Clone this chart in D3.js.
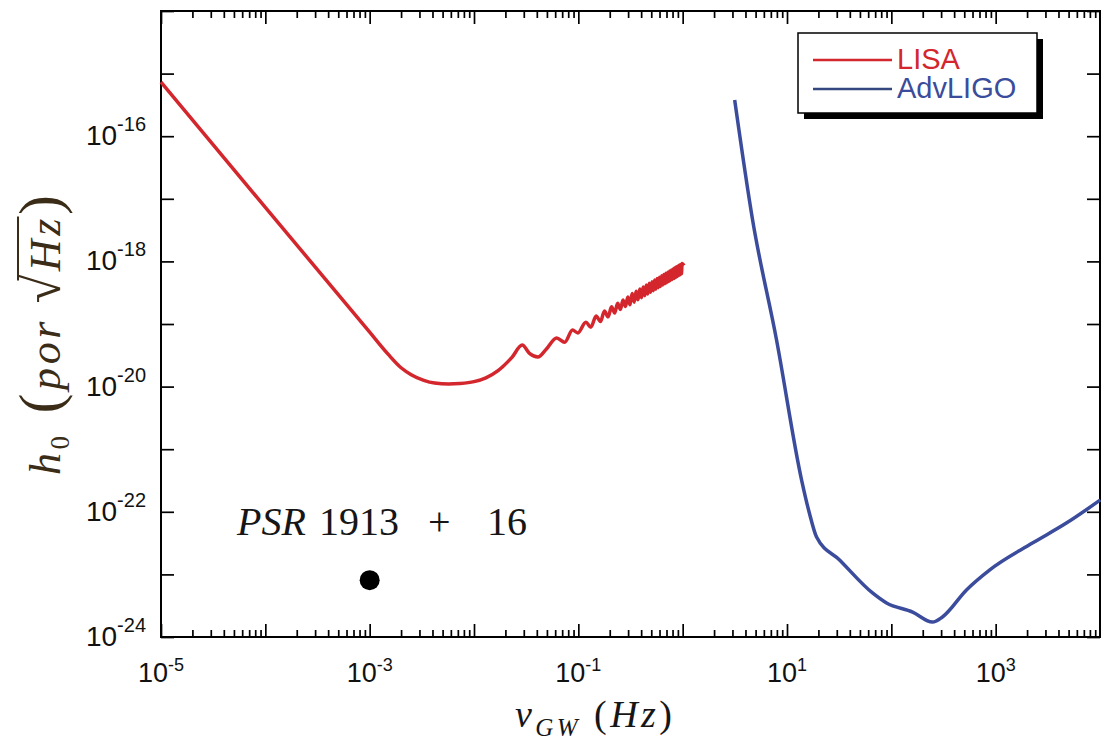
<!DOCTYPE html>
<html>
<head>
<meta charset="utf-8">
<script src="https://cdn.jsdelivr.net/npm/d3@7"></script>
<style>
  body { margin: 0; background: #fff; }
  svg { display: block; }
</style>
</head>
<body>
<div id="chart"></div>
<script>
// Sensitivity curves (frequency in Hz, strain per sqrt(Hz))
var lisaFreq = [1e-5, 1e-4, 1e-3, 1.5e-3, 2e-3, 2.5e-3, 3.3e-3, 4.2e-3, 5.7e-3, 7.3e-3,
  1e-2, 1.3e-2, 1.7e-2, 2.3e-2, 2.9e-2, 3.4e-2, 4.1e-2, 4.9e-2, 6.2e-2, 7.4e-2, 8.8e-2, 9.9e-2,
  0.118, 0.132, 0.148, 0.163, 0.178, 0.193, 0.208, 0.223, 0.238, 0.253, 0.268, 0.283,
  0.298, 0.313, 0.328, 0.343, 0.358, 0.373, 0.388, 0.403, 0.418, 0.433, 0.448, 0.463,
  0.478, 0.493, 0.508, 0.523, 0.538, 0.553, 0.568, 0.583, 0.598, 0.613, 0.628, 0.643,
  0.658, 0.673, 0.688, 0.703, 0.718, 0.733, 0.748, 0.763, 0.778, 0.793, 0.808, 0.823,
  0.838, 0.853, 0.868, 0.883, 0.898, 0.913, 0.928, 0.943, 0.958, 0.973, 0.988, 1.03];
var lisaStrain = [7.3e-16, 7.3e-18, 7.4e-20, 3.3e-20, 2.0e-20, 1.55e-20, 1.26e-20, 1.14e-20, 1.1e-20, 1.12e-20,
  1.2e-20, 1.38e-20, 1.8e-20, 2.9e-20, 4.6e-20, 3.4e-20, 2.97e-20, 3.9e-20, 5.97e-20, 5.1e-20, 8.0e-20, 7.2e-20,
  1.07e-19, 8.9e-20, 1.34e-19, 1.095e-19, 1.61e-19, 1.30e-19, 1.88e-19, 1.50e-19, 2.15e-19, 1.70e-19, 2.42e-19, 1.90e-19,
  2.69e-19, 2.03e-19, 3.07e-19, 2.23e-19, 3.35e-19, 2.43e-19, 3.64e-19, 2.62e-19, 3.91e-19, 2.82e-19, 4.19e-19, 3.01e-19,
  4.48e-19, 3.21e-19, 4.75e-19, 3.40e-19, 5.04e-19, 3.59e-19, 5.32e-19, 3.79e-19, 5.59e-19, 3.98e-19, 5.88e-19, 4.18e-19,
  6.16e-19, 4.38e-19, 6.44e-19, 4.57e-19, 6.72e-19, 4.77e-19, 7.0e-19, 4.96e-19, 7.28e-19, 5.16e-19, 7.56e-19, 5.35e-19,
  7.85e-19, 5.54e-19, 8.12e-19, 5.74e-19, 8.4e-19, 5.93e-19, 8.69e-19, 6.13e-19, 8.96e-19, 6.33e-19, 9.25e-19, 8.6e-19];

var ligoFreq = [3.15, 4.68, 7.94, 13.8, 16.4, 19.2, 31.9, 66, 90, 160, 248, 309, 525, 873, 2250, 4760, 10090];
var ligoStrain = [3.8e-16, 4.58e-18, 5.55e-20, 3.22e-22, 9.5e-23, 3.95e-23, 1.7e-23, 5.05e-24, 3.49e-24,
  2.5e-24, 1.73e-24, 2.09e-24, 5.64e-24, 1.17e-23, 3.16e-23, 6.6e-23, 1.55e-22];

var psrFreq = [1e-3];
var psrStrain = [8.1e-24];

var seriesNames = ["LISA", "AdvLIGO"];
var seriesColors = ["#d3262d", "#3a4c9b"];
var legendLineColors = ["#d3262d", "#34477e"];

var xLabelExp = [-5, -3, -1, 1, 3];
var yLabelExp = [-16, -18, -20, -22, -24];

var w = 1101;
var h = 740;
var plotLeft = 161, plotRight = 1100, plotTop = 11, plotBottom = 637;

var x = d3.scaleLog().domain([1e-5, 1e4]).range([plotLeft, plotRight]);
var y = d3.scaleLog().domain([1e-24, 1e-14]).range([plotBottom, plotTop]);

var svg = d3.select("#chart")
  .append("svg")
  .attr("width", w)
  .attr("height", h);

function isPow10(v) {
  var l = Math.log10(v);
  return Math.abs(l - Math.round(l)) < 1e-6;
}

var xMajor = x.ticks().filter(isPow10);
var xMinor = x.ticks().filter(function (v) { return !isPow10(v); });
var yMajor = y.ticks().filter(isPow10);
var yMinor = y.ticks().filter(function (v) { return !isPow10(v); });

// ticks on all four sides, pointing inward
function addAxis(axisFn, scale, values, size, transform) {
  svg.append("g")
    .attr("transform", transform)
    .call(axisFn(scale).tickValues(values).tickSize(-size).tickFormat(""))
    .call(function (g) { g.select(".domain").remove(); })
    .selectAll("line")
    .attr("stroke", "#000")
    .attr("stroke-width", 1.7);
}
addAxis(d3.axisBottom, x, xMajor, 13, "translate(0," + plotBottom + ")");
addAxis(d3.axisBottom, x, xMinor, 7, "translate(0," + plotBottom + ")");
addAxis(d3.axisTop, x, xMajor, 13, "translate(0," + plotTop + ")");
addAxis(d3.axisTop, x, xMinor, 7, "translate(0," + plotTop + ")");
addAxis(d3.axisLeft, y, yMajor, 13, "translate(" + plotLeft + ",0)");
addAxis(d3.axisLeft, y, yMinor, 7, "translate(" + plotLeft + ",0)");
addAxis(d3.axisRight, y, yMajor, 13, "translate(" + plotRight + ",0)");
addAxis(d3.axisRight, y, yMinor, 7, "translate(" + plotRight + ",0)");

svg.append("rect")
  .attr("x", plotLeft)
  .attr("y", plotTop)
  .attr("width", plotRight - plotLeft)
  .attr("height", plotBottom - plotTop)
  .attr("fill", "none")
  .attr("stroke", "#000")
  .attr("stroke-width", 2);

// tick labels 10^n
var xl = svg.selectAll(".xlab")
  .data(xLabelExp)
  .enter()
  .append("text")
  .attr("class", "xlab")
  .attr("x", function (d) { return x(Math.pow(10, d)); })
  .attr("y", 682)
  .attr("text-anchor", "middle")
  .style("font-family", "'Liberation Sans', Arial, sans-serif")
  .style("fill", "#111");
xl.append("tspan").style("font-size", "27px").text("10");
xl.append("tspan").style("font-size", "18px").attr("dy", -11).text(function (d) { return (d < 0 ? "-" : "") + Math.abs(d); });

var yl = svg.selectAll(".ylab")
  .data(yLabelExp)
  .enter()
  .append("text")
  .attr("class", "ylab")
  .attr("x", 146)
  .attr("y", function (d) { return y(Math.pow(10, d)) + 9; })
  .attr("text-anchor", "end")
  .style("font-family", "'Liberation Sans', Arial, sans-serif")
  .style("fill", "#111");
yl.append("tspan").style("font-size", "28px").text("10");
yl.append("tspan").style("font-size", "20px").attr("dy", -14).text(function (d) { return "-" + Math.abs(d); });

// curves
var line = d3.line()
  .x(function (d) { return x(d[0]); })
  .y(function (d) { return y(d[1]); })
  .curve(d3.curveMonotoneX);

svg.append("path")
  .datum(d3.zip(lisaFreq, lisaStrain))
  .attr("d", line)
  .attr("fill", "none")
  .attr("stroke", seriesColors[0])
  .attr("stroke-width", 3.5)
  .attr("stroke-linejoin", "round");

svg.append("path")
  .datum(d3.zip(ligoFreq, ligoStrain))
  .attr("d", line)
  .attr("fill", "none")
  .attr("stroke", seriesColors[1])
  .attr("stroke-width", 3.5)
  .attr("stroke-linejoin", "round");

// pulsar point
svg.selectAll(".psr")
  .data(d3.zip(psrFreq, psrStrain))
  .enter()
  .append("circle")
  .attr("cx", function (d) { return x(d[0]); })
  .attr("cy", function (d) { return y(d[1]); })
  .attr("r", 10)
  .attr("fill", "#000");

var psr = svg.append("text")
  .attr("y", 535)
  .style("font-family", "'Liberation Serif', 'Times New Roman', serif")
  .style("font-size", "40px")
  .style("fill", "#161616");
psr.append("tspan").attr("x", 237).style("font-style", "italic").text("PSR");
psr.append("tspan").attr("x", 319).text("1913");
psr.append("tspan").attr("x", 428).text("+");
psr.append("tspan").attr("x", 487).text("16");

// axis titles
var xt = svg.append("text")
  .attr("x", 515)
  .attr("y", 727)
  .attr("textLength", 157)
  .style("font-family", "'Liberation Serif', 'Times New Roman', serif")
  .style("font-size", "38px")
  .style("fill", "#161616");
xt.append("tspan").style("font-style", "italic").text("ν");
xt.append("tspan").style("font-style", "italic").style("font-size", "25px").attr("dy", 9).text("GW");
xt.append("tspan").attr("dy", -9).text(" (");
xt.append("tspan").style("font-style", "italic").text("Hz");
xt.append("tspan").text(")");

var yg = svg.append("g").attr("transform", "translate(60,475) rotate(-90)");
var yt = yg.append("text")
  .attr("x", 0)
  .attr("y", 0)
  .attr("textLength", 280)
  .style("font-family", "'Liberation Serif', 'Times New Roman', serif")
  .style("font-size", "44px")
  .style("fill", "#3a2c17");
yt.append("tspan").style("font-style", "italic").text("h");
yt.append("tspan").style("font-size", "27px").attr("dy", 9).text("0");
yt.append("tspan").attr("dy", -9).style("font-size", "60px").text(" (");
yt.append("tspan").style("font-style", "italic").text("por ");
yt.append("tspan").style("font-size", "52px").text("√");
yt.append("tspan").style("font-style", "italic").text("Hz");
yt.append("tspan").style("font-size", "60px").text(")");
// overline for the square root
var txt = yt.node().textContent;
var i0 = txt.indexOf("√");
var e0 = yt.node().getExtentOfChar(i0);
var e2 = yt.node().getExtentOfChar(i0 + 2);
yg.append("line")
  .attr("x1", e0.x + e0.width * 0.8)
  .attr("x2", e2.x + e2.width + 2)
  .attr("y1", e0.y + 4)
  .attr("y2", e0.y + 4)
  .attr("stroke", "#3a2c17")
  .attr("stroke-width", 2);

// legend
var lg = svg.append("g").attr("transform", "translate(798,33)");
lg.append("rect").attr("x", 6).attr("y", 6).attr("width", 239).attr("height", 80).attr("fill", "#000");
lg.append("rect").attr("width", 239).attr("height", 80).attr("fill", "#fff").attr("stroke", "#000").attr("stroke-width", 1.5);
var items = lg.selectAll(".item")
  .data(seriesNames)
  .enter()
  .append("g")
  .attr("transform", function (d, i) { return "translate(0," + (27 + i * 29) + ")"; });
items.append("line")
  .attr("x1", 15).attr("x2", 94)
  .attr("stroke", function (d, i) { return legendLineColors[i]; })
  .attr("stroke-width", 2.5);
items.append("text")
  .attr("x", 99)
  .attr("y", 9)
  .style("font-family", "'Liberation Sans', Arial, sans-serif")
  .style("font-size", "29px")
  .style("fill", function (d, i) { return seriesColors[i]; })
  .text(function (d) { return d; });
</script>
</body>
</html>
